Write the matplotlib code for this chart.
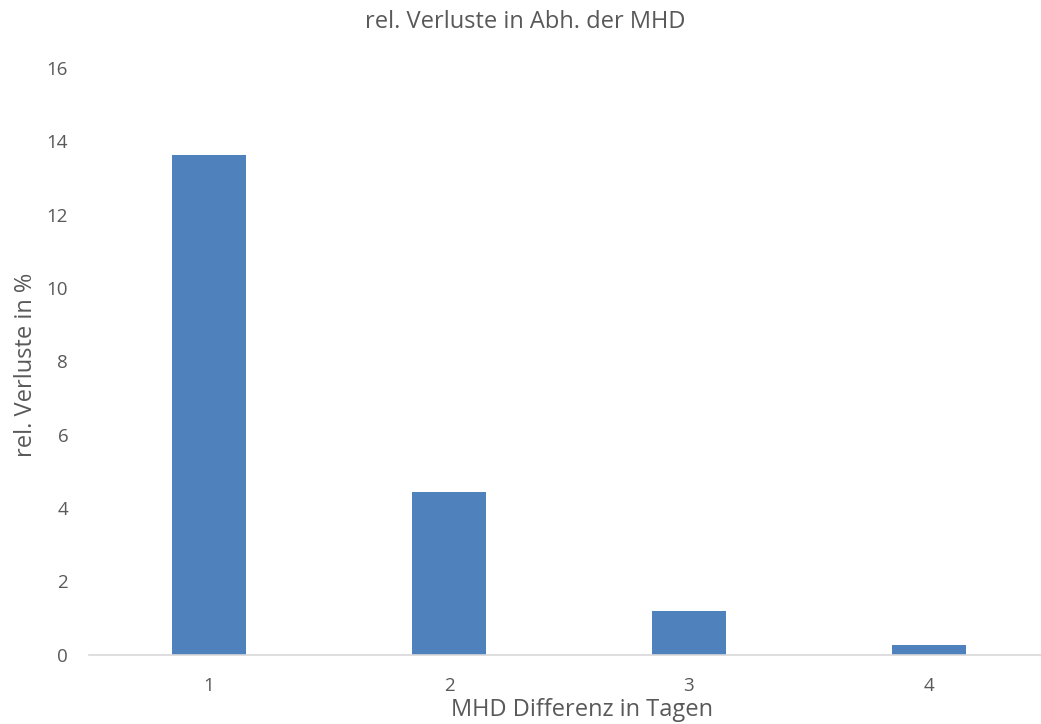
import matplotlib
matplotlib.use("Agg")
import matplotlib.pyplot as plt

categories = ["1", "2", "3", "4"]
values = [13.62, 4.43, 1.19, 0.26]
yticks = [0, 2, 4, 6, 8, 10, 12, 14, 16]

plt.rcParams['font.family'] = ['Open Sans', 'DejaVu Sans']
txt = '#595959'

fig = plt.figure(figsize=(10.41, 7.24), dpi=100)
ax = fig.add_axes([89/1041, (724-654.5)/724, 1 - 89/1041, (654.5-68)/724])
x = list(range(1, len(categories) + 1))
ax.bar(x, values, width=0.31, color='#4F81BD')
ax.set_xlim(0.5, 0.5 + (1041-89)/240)
ax.set_ylim(0, 16)
ax.set_yticks(yticks)
ax.set_xticks(x)
ax.set_xticklabels(categories)
for s in ['top', 'right', 'left']:
    ax.spines[s].set_visible(False)
ax.spines['bottom'].set_color('#D9D9D9')
ax.spines['bottom'].set_linewidth(1.2)
ax.tick_params(length=0, colors=txt, labelsize=13.5)
ax.tick_params(axis='y', pad=15)
ax.tick_params(axis='x', pad=16)
fig.text(26/1041, 1 - 365/724, 'rel. Verluste in %', rotation=90, ha='center', va='center',
         color=txt, fontsize=17)
fig.text(582/1041, 1 - 716/724, 'MHD Differenz in Tagen', ha='center', va='baseline',
         color=txt, fontsize=17)
fig.text(525/1041, 1 - 28/724, 'rel. Verluste in Abh. der MHD', ha='center', va='baseline',
         color=txt, fontsize=17)
fig.savefig('out.png', dpi=100)
